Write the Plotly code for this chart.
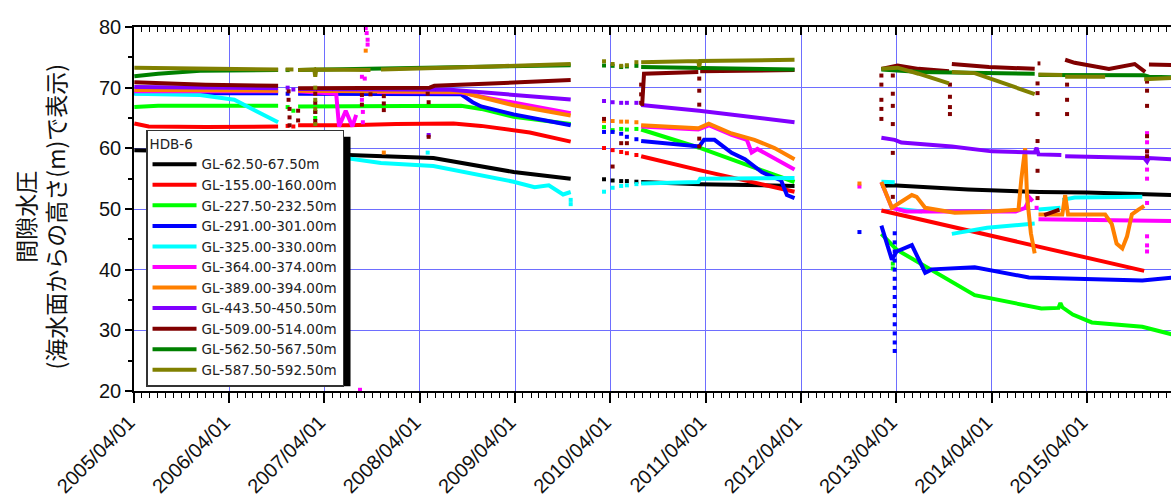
import plotly.graph_objects as go
from datetime import datetime

# ---------------- data (time in decimal years, value in m) ----------------
names = ["GL-62.50-67.50m", "GL-155.00-160.00m", "GL-227.50-232.50m", "GL-291.00-301.00m",
         "GL-325.00-330.00m", "GL-364.00-374.00m", "GL-389.00-394.00m", "GL-443.50-450.50m",
         "GL-509.00-514.00m", "GL-562.50-567.50m", "GL-587.50-592.50m"]
colors = ["#000000", "#ff0000", "#00ff00", "#0000ff", "#00ffff", "#ff00ff",
          "#ff8000", "#8000ff", "#800000", "#008000", "#808000"]

N = None
# GL-62.50-67.50m
s1_t = [2005.25, 2005.6, 2006.0, 2006.76, N, 2006.97, 2007.84, 2008.39, 2009.23, 2009.83, N,
        2010.57, 2011.18, 2012.18, N, 2013.09, 2013.20, 2014.0, 2014.75, 2015.25, 2016.15]
s1_v = [59.7, 59.6, 59.5, 59.3, N, 59.2, 58.8, 58.4, 56.1, 55.0, N,
        54.45, 54.1, 53.8, N, 53.8, 53.9, 53.2, 52.8, 52.7, 52.3]
s1_dt = [2006.86, 2006.92, 2010.18, 2010.27, 2010.36, 2010.42, 2010.52]
s1_dv = [59.3, 59.2, 54.9, 54.7, 54.6, 54.6, 54.5]

# GL-155.00-160.00m
s2_t = [2005.25, 2005.40, 2006.0, 2006.76, N, 2006.97, 2007.5, 2008.0, 2008.6, 2008.89, 2009.4, 2009.83, N,
        2010.57, 2011.18, 2012.18, N, 2013.09, 2015.85]
s2_v = [64.1, 63.6, 63.5, 63.6, N, 63.8, 63.8, 64.0, 64.1, 63.7, 62.6, 61.1, N,
        58.7, 56.4, 52.85, N, 49.75, 39.8]
s2_dt = [2006.86, 2006.92, 2010.18, 2010.27, 2010.36, 2010.42, 2010.52]
s2_dv = [63.7, 63.6, 60.05, 59.7, 59.4, 59.2, 58.9]

# GL-227.50-232.50m
s3_t = [2005.25, 2005.5, 2006.76, N, 2006.97, 2008.68, 2008.89, 2009.23, 2009.83, N,
        2010.57, 2011.18, 2012.18, N, 2013.09, 2013.20, 2013.25, 2014.07, 2014.77, 2014.95, 2014.97,
        2014.99, 2015.1, 2015.3, 2015.83, 2016.15]
s3_v = [66.8, 67.0, 67.0, N, 66.9, 67.0, 66.5, 65.2, 64.0, N,
        63.1, 60.1, 54.45, N, 45.9, 44.0, 43.3, 35.8, 33.6, 33.7, 34.5,
        33.8, 32.6, 31.3, 30.6, 29.3]
s3_dt = [2006.86, 2006.92, 2007.15, 2007.15, 2010.18, 2010.27, 2010.36, 2010.42, 2010.52, 2013.21, 2013.21]
s3_dv = [66.8, 66.2, 66.0, 65.0, 63.5, 63.0, 63.2, 63.1, 63.2, 41.0, 40.2]

# GL-291.00-301.00m
s4_t = [2005.25, 2006.76, N, 2006.97, 2008.68, 2008.80, 2008.89, 2009.23, 2009.5, 2009.83, N,
        2010.57, 2011.18, 2011.23, 2011.34, 2011.52, 2011.66, 2011.84, 2012.04, 2012.10, 2012.18, N,
        2013.09, 2013.20, 2013.25, 2013.41, 2013.55, 2013.62, 2014.07, 2014.64, 2015.83, 2016.15]
s4_v = [69.1, 69.1, N, 69.0, 68.9, 67.6, 66.9, 65.6, 64.8, 63.8, N,
        61.2, 60.3, 61.4, 61.4, 59.25, 58.2, 56.05, 54.7, 52.3, 51.8, N,
        47.25, 41.65, 43.0, 44.05, 39.5, 40.05, 40.4, 38.7, 38.2, 38.7]
s4_dt = [2006.86, 2010.18, 2010.27, 2010.36, 2010.42, 2010.52, 2012.86,
         2013.23, 2013.23, 2013.23, 2013.23, 2013.23, 2013.23, 2013.23, 2013.23,
         2013.23, 2013.23, 2013.23, 2013.23, 2013.23, 2013.23]
s4_dv = [69.0, 62.7, 62.7, 62.4, 61.9, 61.5, 46.2,
         46.0, 44.5, 43.0, 41.5, 40.0, 38.5, 37.0, 35.5,
         34.0, 32.5, 31.0, 29.5, 28.0, 26.6]

# GL-325.00-330.00m
s5_t = [2005.25, 2005.94, 2006.3, 2006.58, 2006.76, N, 2006.97, 2007.84, 2008.39, 2009.23, 2009.45, 2009.6,
        2009.75, 2009.83, N, 2010.57, 2011.17, 2011.19, 2012.18, N, 2013.09, 2013.23, N, 2013.27, 2013.52, N,
        2013.83, 2014.2, 2014.70, N, 2014.74, 2014.97, N, 2014.99, 2015.12, 2015.83]
s5_v = [69.0, 68.8, 68.0, 65.7, 64.3, N, 59.5, 57.6, 57.1, 54.5, 53.6, 53.9,
        52.4, 52.8, N, 54.2, 54.45, 55.0, 55.1, N, 54.5, 54.4, N, 50.0, 49.6, N,
        45.9, 46.9, 47.6, N, 49.9, 50.2, N, 51.5, 51.9, 52.0]
s5_dt = [2008.33, 2009.83, 2009.83, 2010.18, 2010.27, 2010.36, 2010.42, 2010.52]
s5_dv = [59.3, 51.5, 50.8, 52.85, 53.5, 53.8, 53.9, 54.1]

# GL-364.00-374.00m
s6_t = [2005.25, 2006.76, N, 2006.97, 2007.37, 2007.40, 2007.47, 2007.54, 2007.58, N,
        2007.80, 2008.68, 2009.0, 2009.83, N, 2010.57, 2011.17, 2011.28, 2011.52, 2011.68, 2011.73,
        2011.79, 2011.97, 2012.18, N, 2013.09, 2013.20, 2013.35, 2014.5, 2014.6, 2014.65, 2014.68, N,
        2014.74, 2016.15]
s6_v = [69.4, 69.4, N, 69.4, 69.0, 63.6, 66.2, 63.6, 65.5, N,
        69.3, 69.2, 68.2, 65.8, N, 63.6, 63.1, 63.8, 62.2, 61.4, 59.3,
        59.9, 58.3, 56.5, N, 54.4, 50.2, 49.6, 49.6, 50.2, 51.8, 51.3, N,
        48.3, 48.0]
s6_dt = [2007.64, 2007.64, 2007.65, 2007.65, 2007.68, 2007.69, 2007.70, 2007.70, 2007.67, 2007.62,
         2012.86, 2014.72, 2015.88, 2015.88, 2015.88, 2015.88, 2015.88, 2015.88, 2015.88, 2015.88, 2015.88]
s6_dv = [71.8, 68.0, 66.0, 64.3, 79.8, 79.0, 77.9, 77.1, 71.5, 20.2,
         53.7, 50.2, 62.5, 61.0, 59.5, 56.5, 55.0, 51.0, 45.5, 44.0, 43.0]

# GL-389.00-394.00m
s7_t = [2005.25, 2006.76, N, 2006.97, 2008.68, 2008.80, 2009.23, 2009.83, N,
        2010.57, 2011.17, 2011.28, 2011.52, 2011.76, 2011.97, 2012.18, N,
        2013.09, 2013.20, 2013.41, 2013.46, 2013.55, 2013.86, 2014.15, 2014.53, 2014.56, 2014.60,
        2014.62, 2014.64, 2014.66, 2014.70, N, 2014.74, 2014.99, 2015.02, 2015.05, 2015.44, 2015.51,
        2015.56, 2015.62, 2015.67, 2015.72, 2015.79, 2015.85]
s7_v = [69.6, 69.5, N, 69.5, 69.3, 68.8, 67.1, 65.4, N,
        63.8, 63.3, 64.05, 62.45, 61.4, 60.05, 58.2, N,
        54.45, 50.2, 52.3, 52.0, 50.2, 49.4, 49.5, 49.9, 55.0, 60.0,
        52.0, 48.0, 46.0, 42.7, N, 49.1, 49.1, 52.3, 49.1, 49.1, 47.5,
        44.3, 43.5, 45.5, 49.1, 49.9, 50.5]
s7_dt = [2007.68, 2007.87, 2010.18, 2010.27, 2010.36, 2010.42, 2010.52, 2012.86]
s7_dv = [76.1, 59.3, 64.5, 64.5, 64.4, 64.4, 64.3, 54.2]

# GL-443.50-450.50m
s8_t = [2005.25, 2006.76, N, 2006.97, 2008.57, 2009.83, N, 2010.57, 2011.18, 2012.18, N,
        2013.09, 2013.23, 2013.30, 2013.83, 2014.25, 2014.70, 2014.72, 2014.74, 2014.98, N,
        2015.02, 2015.85, 2015.88, 2015.90, 2016.15]
s8_v = [70.1, 69.9, N, 69.8, 69.65, 68.05, N, 67.15, 66.2, 64.3, N,
        61.75, 61.4, 60.95, 60.3, 59.5, 59.3, 60.1, 59.0, 58.9, N,
        58.7, 58.4, 57.8, 58.4, 58.2]
s8_dt = [2006.86, 2006.92, 2008.34, 2010.18, 2010.27, 2010.36, 2010.42, 2010.52]
s8_dv = [70.0, 69.7, 62.2, 67.8, 67.6, 67.5, 67.5, 67.5]

# GL-509.00-514.00m
s9_t = [2005.25, 2006.0, 2006.76, N, 2006.97, 2008.35, 2008.40, 2009.0, 2009.83, N,
        2010.58, 2010.60, 2011.17, N, 2011.19, 2012.18, N,
        2013.09, 2013.26, 2013.48, 2013.80, N, 2013.83, 2014.22, 2014.70, N, 2014.73, 2014.76, N,
        2014.80, 2014.96, N, 2015.02, 2015.12, 2015.48, 2015.75, 2015.86, N, 2015.90, 2016.15]
s9_v = [70.9, 70.5, 70.3, N, 69.9, 70.0, 70.3, 70.7, 71.25, N,
        67.0, 72.3, 72.6, N, 72.7, 72.9, N,
        73.1, 73.65, 73.1, 72.7, N, 73.9, 73.4, 73.1, N, 74.0, 74.0, N,
        49.0, 49.9, N, 74.6, 74.1, 73.1, 73.9, 72.6, N, 73.8, 73.75]
s9_dt = [2006.87, 2006.87, 2006.88, 2006.88, 2006.88, 2006.97, 2006.97,
         2007.15, 2007.15, 2007.15, 2007.15, 2007.64, 2007.64, 2007.73,
         2007.87, 2007.87, 2007.87, 2008.33, 2008.34, 2008.34,
         2010.18, 2010.27, 2010.36, 2010.42, 2010.57, 2010.57, 2010.57,
         2011.18, 2011.18, 2011.18, 2011.18, 2011.18,
         2013.09, 2013.09, 2013.09, 2013.09, 2013.09,
         2013.21, 2013.21, 2013.21, 2013.21, 2013.21, 2013.21,
         2013.81, 2013.81, 2013.81, 2013.81,
         2014.73, 2014.73, 2014.73, 2014.73, 2014.73, 2014.73,
         2015.04, 2015.04, 2015.04,
         2015.88, 2015.88, 2015.88, 2015.88, 2015.88, 2015.88]
s9_dv = [69.4, 68.0, 66.5, 65.1, 63.8, 66.2, 64.6,
         69.0, 67.5, 66.0, 64.5, 68.8, 67.2, 68.9,
         68.6, 67.4, 66.3, 69.0, 67.6, 61.9,
         64.85, 57.0, 60.85, 60.85, 70.5, 68.9, 67.5,
         71.5, 69.5, 67.2, 61.6, 60.3,
         72.0, 70.5, 68.0, 66.5, 64.85,
         72.0, 69.0, 67.0, 64.0, 59.25, 52.0,
         70.5, 68.5, 66.8, 65.65,
         70.7, 69.1, 65.65, 61.2, 56.3, 51.8,
         70.5, 68.0, 65.65,
         71.0, 69.5, 67.0, 62.0, 59.5, 58.7]

# GL-562.50-567.50m
s10_t = [2005.25, 2005.5, 2005.94, 2006.76, N, 2006.97, 2009.83, N, 2010.57, 2012.18, N,
         2013.09, 2013.5, 2013.83, 2014.5, 2014.70, N, 2014.74, 2015.85, 2015.9, 2016.15]
s10_v = [71.9, 72.3, 72.8, 72.9, N, 72.9, 73.7, N, 73.4, 73.0, N,
         73.0, 72.6, 72.5, 72.4, 72.3, N, 72.1, 72.05, 71.8, 71.7]
s10_dt = [2006.86, 2010.18, 2010.27, 2010.36, 2010.42, 2010.52]
s10_dv = [72.9, 73.65, 73.6, 73.4, 73.5, 73.6]

# GL-587.50-592.50m
s11_t = [2005.25, 2006.76, N, 2006.97, 2007.14, 2007.15, 2007.16, 2007.73, N,
         2007.84, 2008.39, 2009.0, 2009.83, N, 2010.57, 2011.17, 2011.18, 2011.19, 2012.18, N,
         2013.09, 2013.26, 2013.48, 2013.80, N, 2013.83, 2014.07, 2014.70, N, 2014.74, 2014.99, N,
         2015.02, 2015.44, N, 2015.85, 2016.15]
s11_v = [73.3, 73.0, N, 72.9, 73.0, 71.8, 73.0, 72.9, N,
         73.0, 73.2, 73.5, 73.9, N, 74.2, 74.4, 73.4, 74.4, 74.6, N,
         73.1, 73.3, 72.3, 70.7, N, 72.6, 72.4, 68.95, N, 72.15, 72.1, N,
         71.8, 71.8, N, 71.4, 71.6]
s11_dt = [2006.86, 2006.90, 2007.15, 2007.15, 2007.15, 2007.15,
          2010.18, 2010.27, 2010.36, 2010.42, 2010.52]
s11_dv = [73.0, 73.0, 70.0, 68.0, 66.5, 64.0,
          74.35, 73.9, 73.6, 73.7, 74.2]

lines_t = [s1_t, s2_t, s3_t, s4_t, s5_t, s6_t, s7_t, s8_t, s9_t, s10_t, s11_t]
lines_v = [s1_v, s2_v, s3_v, s4_v, s5_v, s6_v, s7_v, s8_v, s9_v, s10_v, s11_v]
dots_t = [s1_dt, s2_dt, s3_dt, s4_dt, s5_dt, s6_dt, s7_dt, s8_dt, s9_dt, s10_dt, s11_dt]
dots_v = [s1_dv, s2_dv, s3_dv, s4_dv, s5_dv, s6_dv, s7_dv, s8_dv, s9_dv, s10_dv, s11_dv]


def to_date(t):
    if t is None:
        return None
    y = int(t)
    a = datetime(y, 1, 1)
    b = datetime(y + 1, 1, 1)
    return a + (b - a) * (t - y)


fig = go.Figure()
for i in range(len(names)):
    fig.add_trace(go.Scatter(
        x=[to_date(t) for t in lines_t[i]], y=lines_v[i], mode="lines",
        line=dict(color=colors[i], width=4), name=names[i],
        legendgroup=names[i], showlegend=True, connectgaps=False))
    fig.add_trace(go.Scatter(
        x=[to_date(t) for t in dots_t[i]], y=dots_v[i], mode="markers",
        marker=dict(color=colors[i], size=4, symbol="square", line=dict(width=0)),
        name=names[i], legendgroup=names[i], showlegend=False))

# empty trace for the top (mirrored) axis
fig.add_trace(go.Scatter(x=[], y=[], xaxis="x2", showlegend=False))

x_start = datetime(2005, 4, 1)
x_end = datetime(2016, 2, 18)
grid = "rgb(110,110,255)"
tickfont = dict(family="Liberation Sans, Arial", size=20, color="#111")
legfont = dict(family="DejaVu Sans", size=13.5, color="#222")

fig.update_layout(
    width=1171, height=497,
    margin=dict(l=134, r=0, t=27, b=95),
    paper_bgcolor="white", plot_bgcolor="white",
    showlegend=True,
    xaxis=dict(type="date", range=[x_start, x_end], tick0="2005-04-01", dtick="M12",
               tickformat="%Y/%m/%d", tickangle=-45, tickfont=tickfont, ticklabelshift=-5,
               ticks="outside", ticklen=10, tickwidth=1.5, tickcolor="black",
               showline=True, linecolor="black", linewidth=1.5,
               showgrid=True, gridcolor=grid, gridwidth=1, zeroline=False,
               minor=dict(dtick="M1", tick0="2005-04-01", ticks="outside", ticklen=5,
                          tickcolor="black", tickwidth=1, showgrid=False)),
    xaxis2=dict(type="date", overlaying="x", side="top", range=[x_start, x_end], matches="x",
                tick0="2005-04-01", dtick="M12", showticklabels=False,
                ticks="inside", ticklen=8, tickwidth=1.5, tickcolor="black",
                showline=True, linecolor="black", linewidth=1.5, showgrid=False, zeroline=False,
                minor=dict(dtick="M1", tick0="2005-04-01", ticks="inside", ticklen=5,
                           tickcolor="black", tickwidth=1, showgrid=False)),
    yaxis=dict(range=[20, 80], dtick=10, tick0=0, tickfont=tickfont,
               ticks="outside", ticklen=7, tickwidth=1.5, tickcolor="black",
               showline=True, linecolor="black", linewidth=1.5,
               showgrid=True, gridcolor=grid, gridwidth=1, zeroline=False,
               minor=dict(dtick=5, ticks="outside", ticklen=4, tickcolor="black", showgrid=False)),
    legend=dict(x=0.0116, y=0.7173, xanchor="left", yanchor="top",
                bgcolor="white", bordercolor="#333", borderwidth=1.5,
                font=legfont, title=dict(text="HDB-6", font=legfont),
                tracegroupgap=0, itemwidth=44, itemclick=False),
    annotations=[dict(text="間隙水圧<br>(海水面からの高さ(m)で表示)", textangle=-90,
                      xref="paper", yref="paper", x=-0.0906, y=0.477,
                      xanchor="center", yanchor="middle", showarrow=False,
                      font=dict(family="Noto Sans CJK JP", size=23, color="#111"))],
    shapes=[dict(type="rect", xref="paper", yref="paper", x0=0.01832, x1=0.2088,
                 y0=0.01333, y1=0.6987, fillcolor="black", line=dict(width=0), layer="above")],
)

fig.write_html("out.html")
